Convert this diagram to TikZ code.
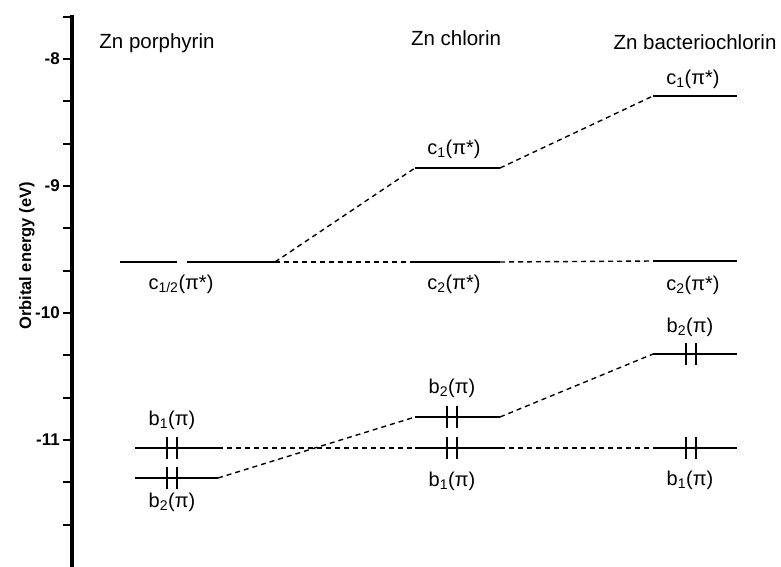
\documentclass[tikz,border=0pt]{standalone}
\usepackage{fontspec}
\setmainfont{Liberation Sans}
\begin{document}
\begin{tikzpicture}[x=1pt,y=-1pt,
  level/.style={line width=2.6pt},
  blevel/.style={line width=2.2pt},
  conn/.style={line width=1.4pt, dash pattern=on 5pt off 4pt},
  lbl/.style={font=\fontsize{20}{23}\selectfont, inner sep=0pt},
  head/.style={font=\fontsize{20.5}{24}\selectfont, inner sep=0pt},
  tlbl/.style={font=\bfseries\fontsize{17}{20}\selectfont, anchor=east, inner sep=0pt},
  axtitle/.style={font=\bfseries\fontsize{16.5}{19}\selectfont, rotate=90, inner sep=0pt},
  spin/.style={line width=1.7pt}]
\useasboundingbox (0,0) rectangle (781,567);

% axis
\coordinate (axTop) at (72,15);
\coordinate (axBot) at (72,567);
\draw[line width=3.2pt] (axTop) -- (axBot);
\foreach \k in {0,...,12} \draw[line width=1.8pt] (63,16.67+42.33*\k) -- (72,16.67+42.33*\k);
\node[tlbl] (t8) at (60,59) {-8};
\node[tlbl] (t9) at (60,186) {-9};
\node[tlbl] (t10) at (60,313) {-10};
\node[tlbl] (t11) at (60,440) {-11};
\node[axtitle] (ytitle) at (27,256) {Orbital energy (eV)};

% headers
\node[head] (hP) at (157,43) {Zn porphyrin};
\node[head] (hC) at (456,38) {Zn chlorin};
\node[head] (hB) at (695,42) {Zn bacteriochlorin};

% level end points
\coordinate (pc1L) at (120,262); \coordinate (pc1R) at (177,262);
\coordinate (pc2L) at (187,262); \coordinate (pc2R) at (275,262);
\coordinate (cc1L) at (415,168); \coordinate (cc1R) at (500,168);
\coordinate (cc2L) at (415,262); \coordinate (cc2R) at (500,262);
\coordinate (bc1L) at (653,96);  \coordinate (bc1R) at (737,96);
\coordinate (bc2L) at (653,261); \coordinate (bc2R) at (737,261);
\coordinate (pb1L) at (135,448); \coordinate (pb1R) at (218,448);
\coordinate (pb2L) at (135,478); \coordinate (pb2R) at (218,478);
\coordinate (cb2L) at (415,417); \coordinate (cb2R) at (500,417);
\coordinate (cb1L) at (415,448); \coordinate (cb1R) at (500,448);
\coordinate (bb2L) at (653,354); \coordinate (bb2R) at (737,354);
\coordinate (bb1L) at (653,448); \coordinate (bb1R) at (737,448);

% levels
\draw[level] (pc1L) -- (pc1R);
\draw[level] (pc2L) -- (pc2R);
\draw[level] (cc1L) -- (cc1R);
\draw[level] (cc2L) -- (cc2R);
\draw[level] (bc1L) -- (bc1R);
\draw[level] (bc2L) -- (bc2R);
\draw[blevel] (pb1L) -- (pb1R);
\draw[blevel] (pb2L) -- (pb2R);
\draw[blevel] (cb2L) -- (cb2R);
\draw[blevel] (cb1L) -- (cb1R);
\draw[blevel] (bb2L) -- (bb2R);
\draw[blevel] (bb1L) -- (bb1R);

% electron pairs
\foreach \x/\y in {167/448,167/478,447/417,447/448,686/354,686/448}{
  \draw[spin] (\x,\y-11) -- (\x,\y+11);
  \draw[spin] (\x+10,\y-11) -- (\x+10,\y+11);
}

% connectors
\draw[conn] (pc2R) -- (cc1L);
\draw[conn] (pc2R) -- (cc2L);
\draw[conn] (cc1R) -- (bc1L);
\draw[conn] (cc2R) -- (bc2L);
\draw[conn] (pb1R) -- (cb1L);
\draw[conn] (pb2R) -- (cb2L);
\draw[conn] (cb2R) -- (bb2L);
\draw[conn] (cb1R) -- (bb1L);

% labels
\node[lbl] (lpc) at (181,284) {c\textsubscript{1/2}(π*)};
\node[lbl] (lcc1) at (454,149) {c\textsubscript{1}(π*)};
\node[lbl] (lcc2) at (454,284) {c\textsubscript{2}(π*)};
\node[lbl] (lbc1) at (693,79) {c\textsubscript{1}(π*)};
\node[lbl] (lbc2) at (693,285) {c\textsubscript{2}(π*)};
\node[lbl] (lpb1) at (172,420) {b\textsubscript{1}(π)};
\node[lbl] (lpb2) at (172,502) {b\textsubscript{2}(π)};
\node[lbl] (lcb2) at (452,388) {b\textsubscript{2}(π)};
\node[lbl] (lcb1) at (452,481) {b\textsubscript{1}(π)};
\node[lbl] (lbb2) at (690,327) {b\textsubscript{2}(π)};
\node[lbl] (lbb1) at (690,480) {b\textsubscript{1}(π)};
\end{tikzpicture}
\end{document}
